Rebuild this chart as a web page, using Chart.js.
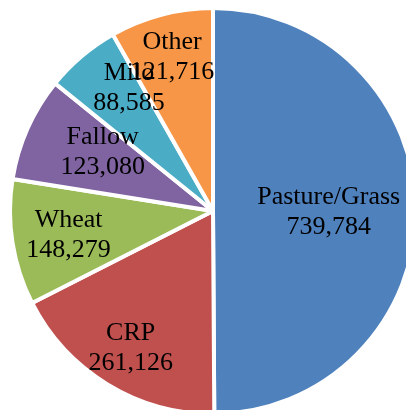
<!DOCTYPE html>
<html>
<head>
<meta charset="utf-8">
<script src="https://cdn.jsdelivr.net/npm/chart.js@4.4.1/dist/chart.umd.min.js"></script>
<style>
    html, body { margin: 0; padding: 0; background: #fff; overflow: hidden; }
    #wrap { position: relative; width: 426px; height: 422px; }
</style>
</head>
<body>
<div id="wrap"><canvas id="landUseChart"></canvas></div>
<script>
// Land use data (clockwise from 12 o'clock)
const categories = ['Pasture/Grass', 'CRP', 'Wheat', 'Fallow', 'Milo', 'Other'];
const acres = [739784, 261126, 148279, 123080, 88585, 121716];
const sliceColors = ['#4F81BD', '#C0504D', '#9BBB59', '#8064A2', '#4BACC6', '#F79646'];

// label placement: distance from centre (fraction of radius) and a small angle nudge (deg)
const labelDistance = [0.57, 0.78, 0.72, 0.62, 0.74, 0.79];
const labelNudge = [0, 0, 0, 4.8, 6.3, 0];

const sliceLabels = {
    id: 'sliceLabels',
    afterDatasetsDraw(chart) {
        const ctx = chart.ctx;
        const meta = chart.getDatasetMeta(0);
        ctx.save();
        ctx.fillStyle = '#000';
        ctx.font = '26px "Liberation Serif", "Times New Roman", serif';
        ctx.textAlign = 'center';
        ctx.textBaseline = 'alphabetic';
        const capHalf = 8.5;
        meta.data.forEach((arc, i) => {
            const p = arc.getProps(['x', 'y', 'startAngle', 'endAngle', 'outerRadius'], true);
            const mid = (p.startAngle + p.endAngle) / 2 + labelNudge[i] * Math.PI / 180;
            const r = p.outerRadius * labelDistance[i];
            const x = p.x + Math.cos(mid) * r;
            const y = p.y + Math.sin(mid) * r;
            ctx.fillText(categories[i], x, y - 15 + capHalf);
            ctx.fillText(acres[i].toLocaleString('en-US'), x, y + 15 + capHalf);
        });
        ctx.restore();
    }
};

const chartCtx = document.getElementById('landUseChart');
new Chart(chartCtx, {
    type: 'pie',
    data: {
        labels: categories,
        datasets: [{
            data: acres,
            backgroundColor: sliceColors,
            borderColor: '#ffffff',
            borderWidth: 4
        }]
    },
    options: {
        responsive: true,
        maintainAspectRatio: false,
        animation: false,
        radius: 203,
        layout: { padding: 0 },
        plugins: {
            legend: { display: false },
            tooltip: { enabled: false }
        }
    },
    plugins: [sliceLabels]
});
</script>
</body>
</html>
